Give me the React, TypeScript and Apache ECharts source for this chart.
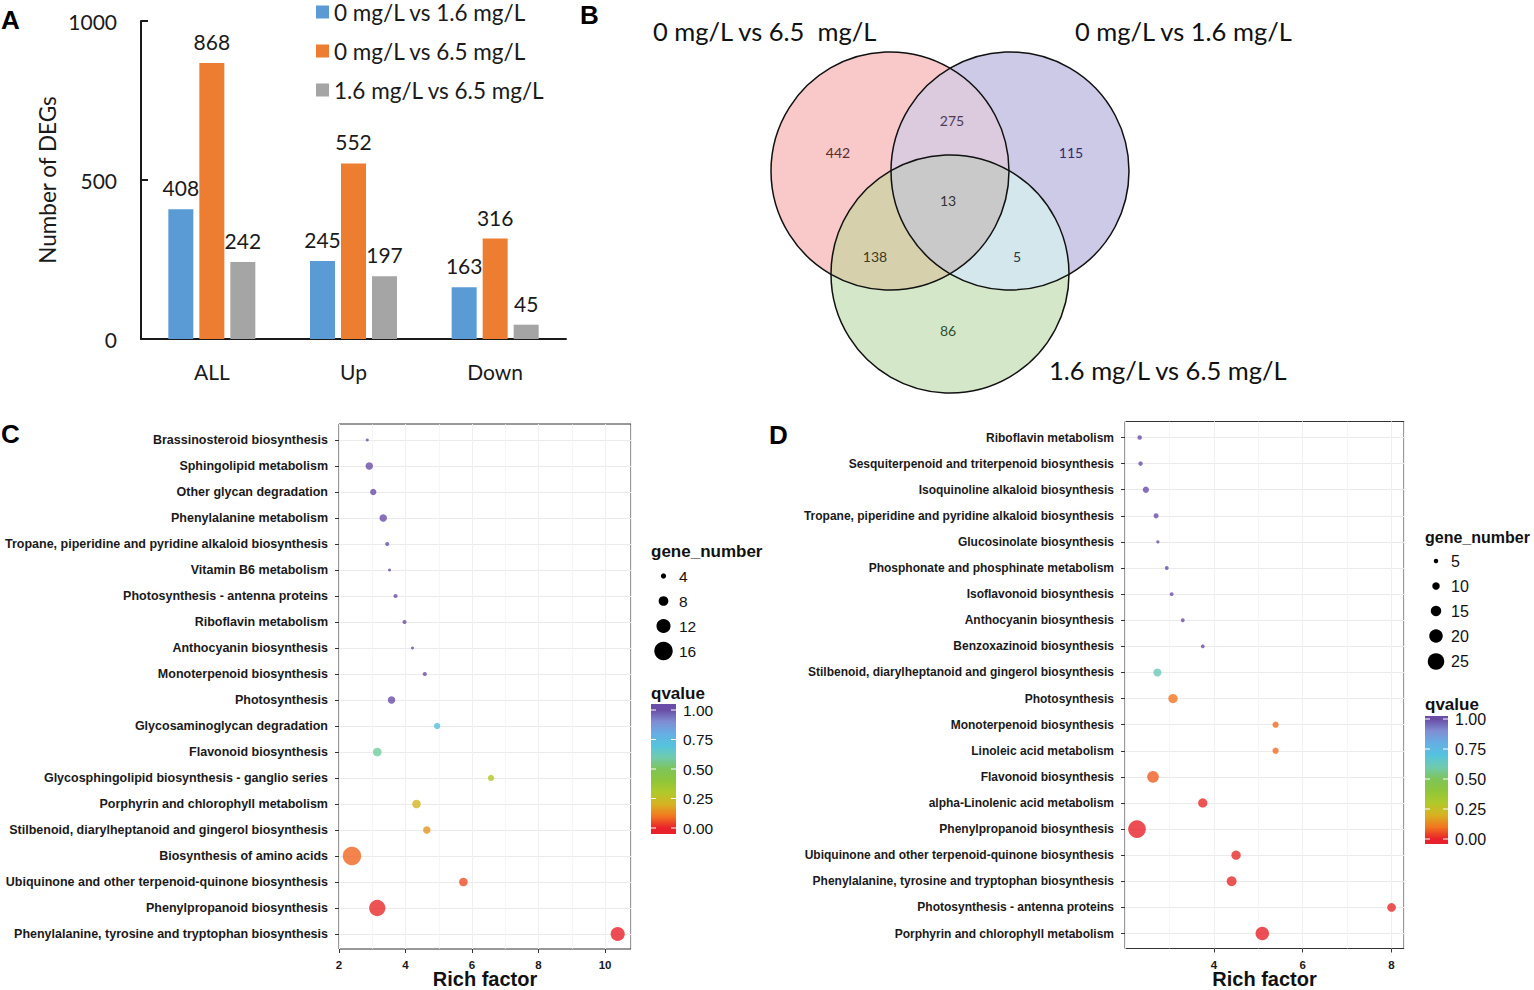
import React, { useEffect, useRef } from 'react';
import * as echarts from 'echarts';

// ---------- Panel A data ----------
const CAT_A = ['ALL', 'Up', 'Down'];
const SERIES_A = ['0 mg/L vs 1.6 mg/L', '0 mg/L vs 6.5 mg/L', '1.6 mg/L vs 6.5 mg/L'];
const VAL_A1 = [408, 245, 163];
const VAL_A2 = [868, 552, 316];
const VAL_A3 = [242, 197, 45];
const COLORS_A = ['#5B9BD5', '#ED7D31', '#A5A5A5'];

// ---------- Panel B data ----------
const VENN_SETS = ['0 mg/L vs 6.5  mg/L', '0 mg/L vs 1.6 mg/L', '1.6 mg/L vs 6.5 mg/L'];
// regions: only A(6.5), only B(1.6), only G, A∩B, A∩G, B∩G, A∩B∩G
const VENN_COUNTS = [442, 115, 86, 275, 138, 5, 13];

// ---------- Panel C data ----------
const C_PATHWAYS = [
  'Brassinosteroid biosynthesis',
  'Sphingolipid metabolism',
  'Other glycan degradation',
  'Phenylalanine metabolism',
  'Tropane, piperidine and pyridine alkaloid biosynthesis',
  'Vitamin B6 metabolism',
  'Photosynthesis - antenna proteins',
  'Riboflavin metabolism',
  'Anthocyanin biosynthesis',
  'Monoterpenoid biosynthesis',
  'Photosynthesis',
  'Glycosaminoglycan degradation',
  'Flavonoid biosynthesis',
  'Glycosphingolipid biosynthesis - ganglio series',
  'Porphyrin and chlorophyll metabolism',
  'Stilbenoid, diarylheptanoid and gingerol biosynthesis',
  'Biosynthesis of amino acids',
  'Ubiquinone and other terpenoid-quinone biosynthesis',
  'Phenylpropanoid biosynthesis',
  'Phenylalanine, tyrosine and tryptophan biosynthesis',
];
const C_RICH = [2.85, 2.91, 3.03, 3.33, 3.45, 3.52, 3.7, 3.97, 4.21, 4.58, 3.58, 4.95, 3.15, 6.57, 4.33, 4.64, 2.39, 5.74, 3.15, 10.38];
const C_GENES = [2, 6, 5, 6, 3, 2, 3, 3, 2, 3, 6, 5, 7, 5, 7, 6, 16, 7, 14, 12];
const C_QVALUE = [1, 1, 1, 1, 1, 1, 1, 1, 1, 1, 1, 0.72, 0.58, 0.29, 0.21, 0.15, 0.08, 0.05, 0.01, 0.0];
const C_SIZE_LEGEND = [4, 8, 12, 16];

// ---------- Panel D data ----------
const D_PATHWAYS = [
  'Riboflavin metabolism',
  'Sesquiterpenoid and triterpenoid biosynthesis',
  'Isoquinoline alkaloid biosynthesis',
  'Tropane, piperidine and pyridine alkaloid biosynthesis',
  'Glucosinolate biosynthesis',
  'Phosphonate and phosphinate metabolism',
  'Isoflavonoid biosynthesis',
  'Anthocyanin biosynthesis',
  'Benzoxazinoid biosynthesis',
  'Stilbenoid, diarylheptanoid and gingerol biosynthesis',
  'Photosynthesis',
  'Monoterpenoid biosynthesis',
  'Linoleic acid metabolism',
  'Flavonoid biosynthesis',
  'alpha-Linolenic acid metabolism',
  'Phenylpropanoid biosynthesis',
  'Ubiquinone and other terpenoid-quinone biosynthesis',
  'Phenylalanine, tyrosine and tryptophan biosynthesis',
  'Photosynthesis - antenna proteins',
  'Porphyrin and chlorophyll metabolism',
];
const D_RICH = [2.33, 2.35, 2.47, 2.7, 2.74, 2.94, 3.05, 3.3, 3.75, 2.73, 3.08, 5.39, 5.39, 2.63, 3.75, 2.27, 4.5, 4.4, 8.0, 5.09];
const D_GENES = [5, 5, 8, 6, 3, 4, 4, 4, 4, 11, 13, 8, 8, 17, 13, 27, 13, 14, 12, 20];
const D_QVALUE = [1, 1, 1, 1, 1, 1, 1, 1, 1, 0.62, 0.1, 0.09, 0.09, 0.07, 0.01, 0.0, 0.01, 0.01, 0.01, 0.0];
const D_SIZE_LEGEND = [5, 10, 15, 20, 25];

const X_TITLE = 'Rich factor';
const Q_TICKS = [1, 0.75, 0.5, 0.25, 0];
// colours for q = 0, 0.1, ..., 1
const Q_COLORS = ['#E8212B', '#F2761F', '#D8B222', '#B0C92A', '#8FC63A', '#7EC45A', '#6FCBAE', '#55C3DE', '#66AEE4', '#7F8ED2', '#6A4DA6'];

const FONT_A = 'Lato, "Open Sans", sans-serif';
const FONT_R = '"Liberation Sans", Arial, Helvetica, sans-serif';

const sizeC = (v: number) => 1.1 * v + 0.9;
const sizeD = (v: number) => 0.6 * v + 1.5;

type Circle = { x: number; y: number; r: number };
const VC: Circle[] = [
  { x: 890, y: 171, r: 119 }, // 0 vs 6.5 (pink)
  { x: 1010, y: 171, r: 119 }, // 0 vs 1.6 (blue)
  { x: 950, y: 274, r: 119 }, // 1.6 vs 6.5 (green)
];

function intersection(cs: Circle[]): number[][] {
  const pts: number[][] = [];
  const n = 720;
  cs.forEach((c, i) => {
    for (let k = 0; k < n; k++) {
      const a = (2 * Math.PI * k) / n;
      const p = [c.x + c.r * Math.cos(a), c.y + c.r * Math.sin(a)];
      const ok = cs.every((o, j) => j === i || Math.hypot(p[0] - o.x, p[1] - o.y) <= o.r + 0.01);
      if (ok) pts.push(p);
    }
  });
  const cx = pts.reduce((s, p) => s + p[0], 0) / pts.length;
  const cy = pts.reduce((s, p) => s + p[1], 0) / pts.length;
  pts.sort((p, q) => Math.atan2(p[1] - cy, p[0] - cx) - Math.atan2(q[1] - cy, q[0] - cx));
  return pts;
}

function colorbar(x: number, top: number, w: number, h: number, y1: number, y0: number, labelX: number, fs: number) {
  const stops: { offset: number; color: string }[] = [];
  stops.push({ offset: 0, color: Q_COLORS[10] });
  for (let i = 10; i >= 0; i--) {
    const q = i / 10;
    const y = y1 + (1 - q) * (y0 - y1);
    stops.push({ offset: (y - top) / h, color: Q_COLORS[i] });
  }
  stops.push({ offset: 1, color: Q_COLORS[0] });
  const els: any[] = [
    {
      type: 'rect',
      shape: { x, y: top, width: w, height: h },
      style: { fill: new echarts.graphic.LinearGradient(0, 0, 0, 1, stops) },
      z: 10,
    },
  ];
  Q_TICKS.forEach((q) => {
    const y = y1 + (1 - q) * (y0 - y1);
    els.push({ type: 'line', shape: { x1: x, y1: y, x2: x + 5, y2: y }, style: { stroke: '#fff', lineWidth: 1 }, z: 11 });
    els.push({ type: 'line', shape: { x1: x + w - 5, y1: y, x2: x + w, y2: y }, style: { stroke: '#fff', lineWidth: 1 }, z: 11 });
    els.push({
      type: 'text',
      x: labelX,
      y,
      style: { text: q.toFixed(2), fontSize: fs, fontFamily: FONT_R, fill: '#111', verticalAlign: 'middle', align: 'left' },
      z: 11,
    });
  });
  return els;
}

function sizeLegend(title: string, tx: number, ty: number, vals: number[], ys: number[], cx: number, labelX: number, f: (v: number) => number, fs: number, tfs: number) {
  const els: any[] = [
    { type: 'text', x: tx, y: ty, style: { text: title, fontSize: tfs, fontWeight: 'bold', fontFamily: FONT_R, fill: '#111', verticalAlign: 'middle' }, z: 10 },
  ];
  vals.forEach((v, i) => {
    els.push({ type: 'circle', shape: { cx, cy: ys[i], r: f(v) / 2 }, style: { fill: '#000' }, z: 10 });
    els.push({ type: 'text', x: labelX, y: ys[i], style: { text: String(v), fontSize: fs, fontFamily: FONT_R, fill: '#111', verticalAlign: 'middle' }, z: 10 });
  });
  return els;
}

function buildOption() {
  const vennFills = ['#F9C9CA', '#CCCAE7', '#D4E8C9'];
  const pairFills = [
    { idx: [0, 1], fill: '#DCCADF' },
    { idx: [0, 2], fill: '#D6D0AC' },
    { idx: [1, 2], fill: '#D3E7ED' },
  ];
  const vennLabelPos = [
    [838, 152, '#5C2B2B'],
    [1071, 152, '#2E2E6B'],
    [948, 330, '#2F4F2F'],
    [952, 120, '#4B3D55'],
    [875, 256, '#3D3A22'],
    [1017, 256, '#2B3A40'],
    [948, 200, '#333333'],
  ];

  const graphic: any[] = [];
  // panel letters
  [['A', 1, 20], ['B', 580, 15], ['C', 1, 434], ['D', 769, 435]].forEach(([t, x, y]) => {
    graphic.push({ type: 'text', x, y, style: { text: t, fontSize: 26, fontWeight: 'bold', fontFamily: FONT_R, fill: '#000', verticalAlign: 'middle' }, z: 10 });
  });
  // venn
  VC.forEach((c, i) => graphic.push({ type: 'circle', shape: { cx: c.x, cy: c.y, r: c.r }, style: { fill: vennFills[i] }, z: 1 }));
  pairFills.forEach((p) => graphic.push({ type: 'polygon', shape: { points: intersection(p.idx.map((k) => VC[k])) }, style: { fill: p.fill }, z: 2 }));
  graphic.push({ type: 'polygon', shape: { points: intersection(VC) }, style: { fill: '#C9C9C9' }, z: 3 });
  VC.forEach((c) => graphic.push({ type: 'circle', shape: { cx: c.x, cy: c.y, r: c.r }, style: { fill: 'none', stroke: '#111', lineWidth: 1.5 }, z: 4 }));
  VENN_COUNTS.forEach((n, i) => {
    const [x, y, col] = vennLabelPos[i];
    graphic.push({ type: 'text', x, y, style: { text: String(n), fontSize: 14, fontFamily: FONT_A, fill: col, align: 'center', verticalAlign: 'middle' }, z: 5 });
  });
  const vennTitlePos = [[653, 31], [1075, 31], [1049, 370]];
  VENN_SETS.forEach((t, i) => {
    graphic.push({ type: 'text', x: vennTitlePos[i][0], y: vennTitlePos[i][1], style: { text: t, fontSize: 25.5, fontFamily: FONT_A, fill: '#111', verticalAlign: 'middle' }, z: 5 });
  });
  // x-axis titles of C and D
  [485, 1264.5].forEach((x) => {
    graphic.push({ type: 'text', x, y: 989, style: { text: X_TITLE, fontSize: 20, fontWeight: 'bold', fontFamily: FONT_R, fill: '#111', align: 'center', verticalAlign: 'bottom' }, z: 10 });
  });
  // C legends
  graphic.push(...sizeLegend('gene_number', 651, 551, C_SIZE_LEGEND, [576, 601, 626, 651], 663.5, 679, sizeC, 15.5, 17));
  graphic.push({ type: 'text', x: 651, y: 693, style: { text: 'qvalue', fontSize: 17, fontWeight: 'bold', fontFamily: FONT_R, fill: '#111', verticalAlign: 'middle' }, z: 10 });
  graphic.push(...colorbar(651, 704, 25, 130, 710, 828, 683, 15.5));
  // D legends
  graphic.push(...sizeLegend('gene_number', 1425, 537, D_SIZE_LEGEND, [561, 586, 611, 636, 661.5], 1436, 1451, sizeD, 16, 16));
  graphic.push({ type: 'text', x: 1425, y: 704, style: { text: 'qvalue', fontSize: 17, fontWeight: 'bold', fontFamily: FONT_R, fill: '#111', verticalAlign: 'middle' }, z: 10 });
  graphic.push(...colorbar(1425, 716, 23, 128, 719, 839, 1455, 16));

  const catAxis = (gridIndex: number, data: string[], fs: number) => ({
    gridIndex,
    type: 'category',
    data,
    inverse: true,
    boundaryGap: false,
    axisLine: { show: false },
    axisTick: { show: true, length: 4, interval: 0, lineStyle: { color: '#333', width: 1 } },
    axisLabel: { interval: 0, margin: 11, fontSize: fs, fontWeight: 'bold', color: '#1a1a1a', fontFamily: FONT_R },
    splitLine: { show: true, interval: 0, lineStyle: { color: '#EBEBEB', width: 1 } },
  });
  const frameAxis = (gridIndex: number, max: number, showMin: boolean) => ({
    gridIndex,
    type: 'value',
    min: 2,
    max,
    interval: 2,
    axisLine: { show: false },
    axisTick: { show: true, length: 4, lineStyle: { color: '#333', width: 1 } },
    axisLabel: { margin: 10, fontSize: 11.5, fontWeight: 'bold', color: '#1a1a1a', fontFamily: FONT_R, showMinLabel: showMin, showMaxLabel: false },
    splitLine: { show: true, lineStyle: { color: '#EBEBEB', width: 1 } },
  });
  const minorAxis = (gridIndex: number, max: number) => ({
    gridIndex,
    type: 'value',
    min: 2,
    max,
    interval: 1,
    position: 'top',
    axisLine: { show: false },
    axisTick: { show: false },
    axisLabel: { show: false },
    splitLine: { show: true, lineStyle: { color: '#F2F2F2', width: 0.7 } },
  });

  return {
    animation: false,
    backgroundColor: '#fff',
    graphic,
    legend: {
      data: SERIES_A,
      orient: 'vertical',
      left: 316,
      top: 0,
      padding: 0,
      itemWidth: 13,
      itemHeight: 13,
      itemGap: 15,
      icon: 'rect',
      textStyle: { fontSize: 22.5, color: '#1a1a1a', fontFamily: FONT_A, lineHeight: 24 },
    },
    grid: [
      { left: 141, top: 21, width: 425, height: 318, outerBoundsMode: 'none' },
      { left: 339, top: 440, width: 292, height: 494, outerBoundsMode: 'none' },
      { left: 339, top: 424, width: 292, height: 525, show: true, borderColor: '#333', borderWidth: 1, backgroundColor: 'transparent', outerBoundsMode: 'none' },
      { left: 1125, top: 437.5, width: 279, height: 496, outerBoundsMode: 'none' },
      { left: 1125, top: 421.5, width: 279, height: 527, show: true, borderColor: '#333', borderWidth: 1, backgroundColor: 'transparent', outerBoundsMode: 'none' },
    ],
    xAxis: [
      {
        gridIndex: 0,
        type: 'category',
        data: CAT_A,
        axisLine: { lineStyle: { color: '#1a1a1a', width: 2 } },
        axisTick: { length: 7, lineStyle: { color: '#1a1a1a', width: 2 } },
        axisLabel: { margin: 22, fontSize: 21, color: '#1a1a1a', fontFamily: FONT_A },
      },
      { gridIndex: 1, type: 'value', min: 2, max: 10.78, show: false },
      frameAxis(2, 10.78, true),
      minorAxis(2, 10.78),
      { gridIndex: 3, type: 'value', min: 2, max: 8.28, show: false },
      frameAxis(4, 8.28, false),
      minorAxis(4, 8.28),
    ],
    yAxis: [
      {
        gridIndex: 0,
        type: 'value',
        min: 0,
        max: 1000,
        interval: 500,
        axisLine: { show: true, lineStyle: { color: '#1a1a1a', width: 2 } },
        axisTick: { show: true, inside: true, length: 7, lineStyle: { color: '#1a1a1a', width: 2 } },
        splitLine: { show: false },
        axisLabel: { margin: 24, fontSize: 21, color: '#1a1a1a', fontFamily: FONT_A, formatter: (v: number) => String(v) },
        name: 'Number of DEGs',
        nameLocation: 'middle',
        nameGap: 82,
        nameRotate: 90,
        nameTextStyle: { fontSize: 22.5, color: '#1a1a1a', fontFamily: FONT_A },
      },
      catAxis(1, C_PATHWAYS, 12.5),
      { gridIndex: 2, type: 'value', show: false },
      catAxis(3, D_PATHWAYS, 12),
      { gridIndex: 4, type: 'value', show: false },
    ],
    visualMap: {
      type: 'continuous',
      show: false,
      min: 0,
      max: 1,
      dimension: 3,
      seriesIndex: [3, 4],
      inRange: { color: Q_COLORS },
    },
    series: [
      ...[VAL_A1, VAL_A2, VAL_A3].map((vals, i) => ({
        type: 'bar',
        name: SERIES_A[i],
        xAxisIndex: 0,
        yAxisIndex: 0,
        data: vals,
        barWidth: 25,
        barGap: '24%',
        itemStyle: { color: COLORS_A[i] },
        label: { show: true, position: 'top', distance: 11, fontSize: 21, color: '#1a1a1a', fontFamily: FONT_A },
      })),
      {
        type: 'scatter',
        xAxisIndex: 1,
        yAxisIndex: 1,
        data: C_PATHWAYS.map((_, i) => [C_RICH[i], i, C_GENES[i], C_QVALUE[i]]),
        symbolSize: (v: number[]) => sizeC(v[2]),
        z: 5,
      },
      {
        type: 'scatter',
        xAxisIndex: 4,
        yAxisIndex: 3,
        data: D_PATHWAYS.map((_, i) => [D_RICH[i], i, D_GENES[i], D_QVALUE[i]]),
        symbolSize: (v: number[]) => sizeD(v[2]),
        z: 5,
      },
    ],
  };
}

export default function App() {
  const ref = useRef<HTMLDivElement>(null);
  useEffect(() => {
    document.body.style.margin = '0';
    const chart = echarts.init(ref.current!, null, { renderer: 'svg' });
    chart.setOption(buildOption() as any);
    return () => chart.dispose();
  }, []);
  return <div ref={ref} style={{ position: 'fixed', left: 0, top: 0, width: 1534, height: 990, background: '#fff' }} />;
}
